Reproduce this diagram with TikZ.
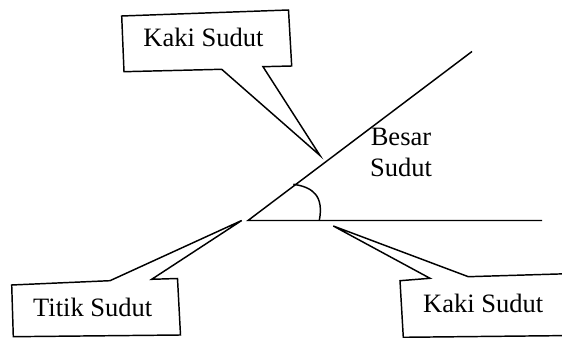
\documentclass[tikz,border=0pt]{standalone}
\usepackage{fontspec}
\setmainfont{Liberation Serif}
\begin{document}
\begin{tikzpicture}[x=0.75pt,y=-0.75pt,line join=miter,
  callout/.style={draw=black,line width=1.1pt,fill=white},
  ray/.style={draw=black,line width=1.1pt},
  lbl/.style={inner sep=0pt,font=\fontsize{19.9}{23.7}\selectfont,anchor=base,align=center}]
\useasboundingbox (0,0) rectangle (562,338);
% angle
\coordinate (v) at (248,220.5);
\coordinate (e1) at (472,51.5);
\coordinate (e2) at (542,220.5);
\draw[ray] (e1) -- (v) -- (e2);
\coordinate (a1) at (293.3,184.3);
\coordinate (a2) at (319.3,220.5);
\draw[ray] (a1) .. controls (313,187) and (324,196) .. (a2);
% top callout
\coordinate (t1) at (121.7,16);
\coordinate (t2) at (288.5,10);
\coordinate (t3) at (291.7,66);
\coordinate (t4) at (263,66.7);
\coordinate (ttip) at (320,155.5);
\coordinate (t5) at (221.7,69.3);
\coordinate (t6) at (124,71.7);
\draw[callout] (t1) -- (t2) -- (t3) -- (t4) -- (ttip) -- (t5) -- (t6) -- cycle;
\node[lbl] (kaki1) at (203.5,46.7) {Kaki Sudut};
% bottom-left callout
\coordinate (l1) at (11.7,285);
\coordinate (l2) at (110,280.7);
\coordinate (ltip) at (241.7,220.5);
\coordinate (l3) at (151.7,279.3);
\coordinate (l4) at (177.5,278.5);
\coordinate (l5) at (180.5,335);
\coordinate (l6) at (13.3,336.7);
\draw[callout] (l1) -- (l2) -- (ltip) -- (l3) -- (l4) -- (l5) -- (l6) -- cycle;
\node[lbl] (titik) at (92.7,316.7) {Titik Sudut};
% bottom-right callout
\coordinate (r1) at (400,280.7);
\coordinate (r2) at (430,278.3);
\coordinate (rtip) at (333.3,226);
\coordinate (r3) at (468.3,276.7);
\coordinate (r4) at (575,273.5);
\coordinate (r5) at (575,335.5);
\coordinate (r6) at (403.3,337.3);
\draw[callout] (r1) -- (r2) -- (rtip) -- (r3) -- (r4) -- (r5) -- (r6) -- cycle;
\node[lbl] (kaki2) at (483.3,312.7) {Kaki Sudut};
% angle label
\node[lbl] (besar) at (401,176.7) {Besar\\Sudut};
\end{tikzpicture}
\end{document}
